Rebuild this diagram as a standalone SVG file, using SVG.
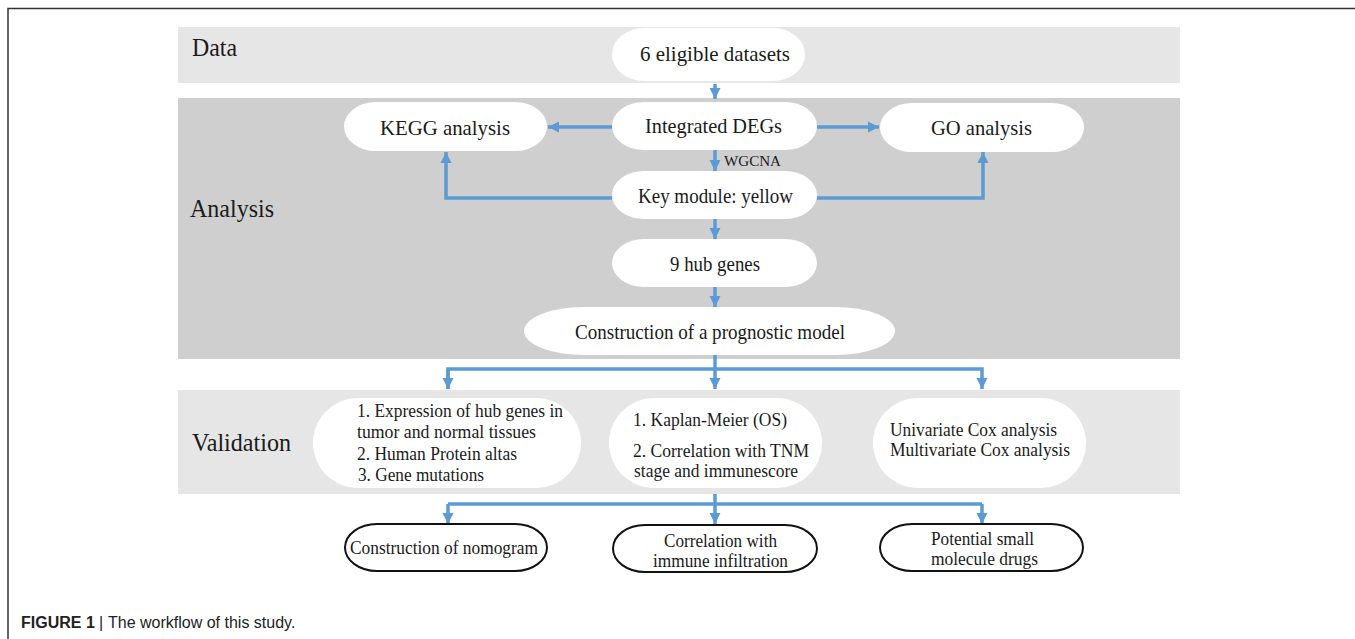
<svg xmlns="http://www.w3.org/2000/svg" width="1355" height="639" viewBox="0 0 1355 639">
<style>
.band-light{fill:#e6e6e6}
.band-dark{fill:#d0cfcf}
.pill{fill:#ffffff}
.pill-out{fill:#ffffff;stroke:#111;stroke-width:2}
.t{font-family:"Liberation Serif","Times New Roman",serif;fill:#1a1a1a}
.lbl{font-size:26px}
.n{font-size:22px}
.s{font-size:18.5px}
.w{font-size:15px}
.conn{fill:none;stroke:#5b9bd5;stroke-width:3.5}
.cap{font-family:"Liberation Sans",Arial,sans-serif;font-size:16px;fill:#222}
</style>
<defs>
<marker id="ah" markerUnits="userSpaceOnUse" markerWidth="12" markerHeight="12" viewBox="0 0 12 12" refX="11" refY="6" orient="auto">
<path d="M0,0.5 L11,6 L0,11.5 Z" fill="#5b9bd5"/>
</marker>
</defs>
<rect x="0" y="0" width="1355" height="639" fill="#ffffff"/>
<path d="M8,639 L8,8.5 L1355,8.5" fill="none" stroke="#333" stroke-width="1.5"/>

<g id="band-data">
<rect class="band-light" x="178" y="27" width="1002" height="56"/>
<text class="t lbl" x="192" y="56" textLength="45" lengthAdjust="spacingAndGlyphs">Data</text>
</g>
<g id="band-analysis">
<rect class="band-dark" x="178" y="98" width="1002" height="261"/>
<text class="t lbl" x="190" y="217" textLength="84" lengthAdjust="spacingAndGlyphs">Analysis</text>
</g>
<g id="band-validation">
<rect class="band-light" x="178" y="390" width="1002" height="104"/>
<text class="t lbl" x="192" y="451" textLength="99" lengthAdjust="spacingAndGlyphs">Validation</text>
</g>

<g id="connectors">
<line class="conn" x1="715" y1="84" x2="715" y2="99" marker-end="url(#ah)"/>
<line class="conn" x1="612" y1="127" x2="548" y2="127" marker-end="url(#ah)"/>
<line class="conn" x1="817" y1="127" x2="879" y2="127" marker-end="url(#ah)"/>
<line class="conn" x1="715" y1="150" x2="715" y2="171" marker-end="url(#ah)"/>
<polyline class="conn" points="612,198 446,198 446,152" marker-end="url(#ah)"/>
<polyline class="conn" points="817,198 983,198 983,152" marker-end="url(#ah)"/>
<line class="conn" x1="715" y1="219" x2="715" y2="239" marker-end="url(#ah)"/>
<line class="conn" x1="715" y1="287" x2="715" y2="307" marker-end="url(#ah)"/>
<line class="conn" x1="715" y1="355" x2="715" y2="389" marker-end="url(#ah)"/>
<polyline class="conn" points="448,389 448,369 982,369 982,389" marker-end="url(#ah)"/>
<line class="conn" x1="448" y1="369" x2="448" y2="389" marker-end="url(#ah)"/>
<line class="conn" x1="715" y1="494" x2="715" y2="524" marker-end="url(#ah)"/>
<polyline class="conn" points="448,504 982,504"/>
<line class="conn" x1="448" y1="504" x2="448" y2="524" marker-end="url(#ah)"/>
<line class="conn" x1="982" y1="504" x2="982" y2="524" marker-end="url(#ah)"/>
<text class="t w" x="724" y="166" textLength="57" lengthAdjust="spacingAndGlyphs">WGCNA</text>
</g>

<g id="node-datasets">
<rect class="pill" x="612" y="28" width="193" height="53" rx="32" ry="26.5"/>
<text class="t n" x="640" y="61" textLength="150" lengthAdjust="spacingAndGlyphs">6 eligible datasets</text>
</g>
<g id="node-degs">
<rect class="pill" x="612" y="102" width="205" height="48" rx="32" ry="24"/>
<text class="t n" x="645" y="133" textLength="137" lengthAdjust="spacingAndGlyphs">Integrated DEGs</text>
</g>
<g id="node-kegg">
<rect class="pill" x="344" y="102" width="203" height="49" rx="32" ry="24.5"/>
<text class="t n" x="380" y="135" textLength="130" lengthAdjust="spacingAndGlyphs">KEGG analysis</text>
</g>
<g id="node-go">
<rect class="pill" x="880" y="103" width="204" height="49" rx="32" ry="24.5"/>
<text class="t n" x="931" y="135" textLength="101" lengthAdjust="spacingAndGlyphs">GO analysis</text>
</g>
<g id="node-module">
<rect class="pill" x="612" y="171" width="205" height="48" rx="32" ry="24"/>
<text class="t n" x="638" y="203" textLength="155" lengthAdjust="spacingAndGlyphs">Key module: yellow</text>
</g>
<g id="node-hub">
<rect class="pill" x="612" y="239" width="205" height="48" rx="32" ry="24"/>
<text class="t n" x="670" y="271" textLength="90" lengthAdjust="spacingAndGlyphs">9 hub genes</text>
</g>
<g id="node-model">
<rect class="pill" x="524" y="307" width="371" height="48" rx="60" ry="24"/>
<text class="t n" x="575" y="339" textLength="270" lengthAdjust="spacingAndGlyphs">Construction of a prognostic model</text>
</g>

<g id="node-expression">
<rect class="pill" x="313" y="398" width="268" height="90" rx="45" ry="45"/>
<text class="t s" x="357" y="417" textLength="206" lengthAdjust="spacingAndGlyphs">1. Expression of hub genes in</text>
<text class="t s" x="357" y="437.5" textLength="179" lengthAdjust="spacingAndGlyphs">tumor and normal tissues</text>
<text class="t s" x="357" y="460" textLength="160" lengthAdjust="spacingAndGlyphs">2. Human Protein altas</text>
<text class="t s" x="358" y="481" textLength="126" lengthAdjust="spacingAndGlyphs">3. Gene mutations</text>
</g>
<g id="node-km">
<rect class="pill" x="609" y="398" width="213" height="90" rx="45" ry="45"/>
<text class="t s" x="633" y="426" textLength="154" lengthAdjust="spacingAndGlyphs">1. Kaplan-Meier (OS)</text>
<text class="t s" x="633" y="456.5" textLength="176" lengthAdjust="spacingAndGlyphs">2. Correlation with TNM</text>
<text class="t s" x="634" y="477" textLength="164" lengthAdjust="spacingAndGlyphs">stage and immunescore</text>
</g>
<g id="node-cox">
<rect class="pill" x="873" y="398" width="213" height="90" rx="45" ry="45"/>
<text class="t s" x="890" y="435.5" textLength="167" lengthAdjust="spacingAndGlyphs">Univariate Cox analysis</text>
<text class="t s" x="890" y="456" textLength="180" lengthAdjust="spacingAndGlyphs">Multivariate Cox analysis</text>
</g>

<g id="node-nomogram">
<rect class="pill-out" x="345" y="524" width="202" height="47" rx="32" ry="23.5"/>
<text class="t s" x="350" y="554" textLength="188" lengthAdjust="spacingAndGlyphs">Construction of nomogram</text>
</g>
<g id="node-immune">
<rect class="pill-out" x="613" y="525" width="204" height="47" rx="32" ry="23.5"/>
<text class="t s" x="664" y="547" textLength="113" lengthAdjust="spacingAndGlyphs">Correlation with</text>
<text class="t s" x="653" y="567" textLength="135" lengthAdjust="spacingAndGlyphs">immune infiltration</text>
</g>
<g id="node-drugs">
<rect class="pill-out" x="880" y="524" width="203" height="47" rx="32" ry="23.5"/>
<text class="t s" x="931" y="545" textLength="103" lengthAdjust="spacingAndGlyphs">Potential small</text>
<text class="t s" x="931" y="565" textLength="107" lengthAdjust="spacingAndGlyphs">molecule drugs</text>
</g>

<g id="caption">
<text class="cap" x="21" y="628" font-weight="bold">FIGURE 1</text>
<text class="cap" x="99" y="628">|</text>
<text class="cap" x="108" y="628">The workflow of this study.</text>
</g>
</svg>
